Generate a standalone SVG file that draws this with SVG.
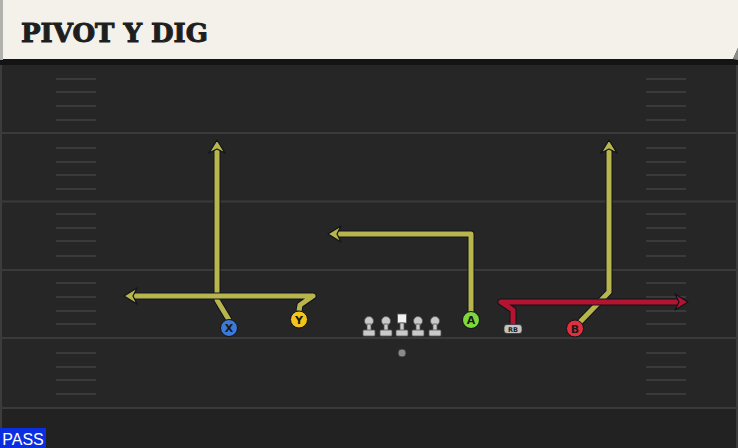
<svg xmlns="http://www.w3.org/2000/svg" width="738" height="448" viewBox="0 0 738 448">
<style>
.yl{stroke:#3a3a3a;stroke-width:2}
.hash{stroke:#3a3a3a;stroke-width:2}
.out{fill:none;stroke:#10121e;stroke-width:7;stroke-linejoin:round;stroke-linecap:butt}
.ry{fill:none;stroke:#b7b54c;stroke-width:5;stroke-linejoin:round}
.rr{fill:none;stroke:#b3142f;stroke-width:5;stroke-linejoin:round}
.lbl{font-family:"DejaVu Sans",sans-serif;font-weight:bold;font-size:11px;fill:#1a1a1a;text-anchor:middle}
.ol{fill:#c9c9c9;stroke:#555;stroke-width:0.8}
</style>
<defs>
<marker id="ahY" markerUnits="userSpaceOnUse" markerWidth="30" markerHeight="30" viewBox="-15 -15 30 30" refX="0" refY="0" orient="auto">
<path d="M-7,-8 L6,0 L-7,8 L-3,0 Z" fill="#b7b54c" stroke="#10121e" stroke-width="1.2" stroke-linejoin="round"/>
</marker>
<marker id="ahR" markerUnits="userSpaceOnUse" markerWidth="30" markerHeight="30" viewBox="-15 -15 30 30" refX="0" refY="0" orient="auto">
<path d="M-7,-8 L6,0 L-7,8 L-3,0 Z" fill="#b3142f" stroke="#10121e" stroke-width="1.2" stroke-linejoin="round"/>
</marker>
<g id="lm">
<circle cx="0" cy="321" r="4.5" class="ol"/>
<rect x="-2" y="324" width="4" height="7" class="ol"/>
<rect x="-6" y="330" width="12" height="6" rx="1" class="ol"/>
</g>
</defs>

<!-- field -->
<rect x="0" y="0" width="738" height="448" fill="#262626"/>
<rect x="0" y="408" width="738" height="40" fill="#222"/>
<rect x="0" y="60" width="2" height="388" fill="#3c3c3c"/>
<rect x="736" y="60" width="2" height="388" fill="#3c3c3c"/>
<g id="yardlines">
<line class="yl" x1="0" y1="133" x2="738" y2="133"/>
<line class="yl" x1="0" y1="201.5" x2="738" y2="201.5"/>
<line class="yl" x1="0" y1="270" x2="738" y2="270"/>
<line class="yl" x1="0" y1="338" x2="738" y2="338"/>
<line class="yl" x1="0" y1="408" x2="738" y2="408"/>
</g>
<g id="hashes">
<path class="hash" d="M56,79H96M56,92H96M56,106H96M56,120H96M56,148H96M56,162H96M56,175H96M56,189H96M56,214H96M56,228H96M56,241H96M56,256H96M56,283H96M56,297H96M56,311H96M56,324H96M56,353H96M56,367H96M56,380H96M56,394H96"/>
<path class="hash" d="M646,79H686M646,92H686M646,106H686M646,120H686M646,148H686M646,162H686M646,175H686M646,189H686M646,214H686M646,228H686M646,241H686M646,256H686M646,283H686M646,297H686M646,311H686M646,324H686M646,353H686M646,367H686M646,380H686M646,394H686"/>
</g>

<!-- header -->
<g id="header">
<rect x="0" y="58" width="738" height="7" fill="#141414"/>
<rect x="0" y="0" width="3" height="60" fill="#b0b0ac"/>
<polygon points="3,0 738,0 738,48 733,59 3,59" fill="#f4f1ea"/>
<polygon points="733,59 738,48 738,60" fill="#8a8a86"/>
<text x="21" y="42" font-family="'DejaVu Serif',serif" font-weight="bold" font-size="26" textLength="187" lengthAdjust="spacingAndGlyphs" fill="#1e1e1e" stroke="#1e1e1e" stroke-width="1">PIVOT Y DIG</text>
</g>

<!-- connectors -->
<g id="routes">
<path class="out" d="M229,320 L217,300 L217,146"/>
<path class="ry" d="M229,320 L217,300 L217,146" marker-end="url(#ahY)"/>
<path class="out" d="M299,311 L300,305 L313,296 L130,296"/>
<path class="ry" d="M299,311 L300,305 L313,296 L130,296" marker-end="url(#ahY)"/>
<path class="out" d="M471,312 L471,234 L334,234"/>
<path class="ry" d="M471,312 L471,234 L334,234" marker-end="url(#ahY)"/>
<path class="out" d="M580,322 L609,292 L609,146"/>
<path class="ry" d="M580,322 L609,292 L609,146" marker-end="url(#ahY)"/>
<path class="out" d="M513,325 L513,310 L501,302 L682,302"/>
<path class="rr" d="M513,325 L513,310 L501,302 L682,302" marker-end="url(#ahR)"/>
</g>

<!-- players -->
<g id="X"><circle cx="229" cy="328" r="8.5" fill="#3b7ad6" stroke="#10121e" stroke-width="1"/><text class="lbl" x="229" y="332">X</text></g>
<g id="Y"><circle cx="299" cy="319.5" r="8.5" fill="#f3c51b" stroke="#10121e" stroke-width="1"/><text class="lbl" x="299" y="323.5">Y</text></g>
<g id="A"><circle cx="471" cy="320" r="8.5" fill="#7fd83a" stroke="#10121e" stroke-width="1"/><text class="lbl" x="471" y="324">A</text></g>
<g id="B"><circle cx="575" cy="328.5" r="8.5" fill="#e0303c" stroke="#10121e" stroke-width="1"/><text class="lbl" x="575" y="332.5">B</text></g>
<g id="RB"><rect x="504" y="324.5" width="18" height="9" rx="3" fill="#c4c4c4" stroke="#333" stroke-width="0.8"/><text x="513" y="332" font-family="'DejaVu Sans',sans-serif" font-weight="bold" font-size="6.5" fill="#222" text-anchor="middle">RB</text></g>
<g id="LT"><use href="#lm" x="369"/></g>
<g id="LG"><use href="#lm" x="386"/></g>
<g id="C">
<rect x="397.5" y="314" width="9" height="9" fill="#f2f2f2" stroke="#555" stroke-width="0.8"/>
<rect x="400" y="323" width="4" height="8" class="ol"/>
<rect x="396" y="330" width="12" height="6" rx="1" class="ol"/>
</g>
<g id="RG"><use href="#lm" x="418"/></g>
<g id="RT"><use href="#lm" x="435"/></g>
<g id="ball"><circle cx="402" cy="353" r="4" fill="#8a8a8a" stroke="#333" stroke-width="0.8"/></g>

<g id="pass">
<rect x="0" y="428" width="46" height="20" fill="#0b2fe0"/>
<text x="23" y="445" font-family="'Liberation Sans',sans-serif" font-size="16" fill="#ffffff" text-anchor="middle">PASS</text>
</g>
</svg>
